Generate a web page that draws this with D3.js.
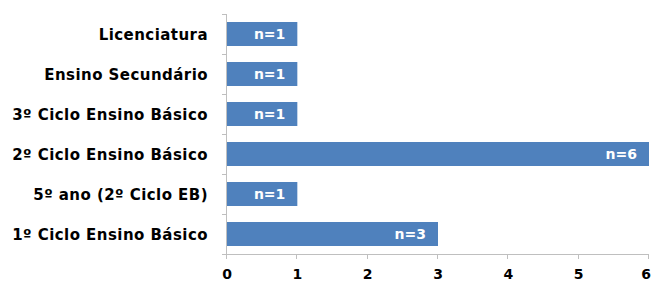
<!DOCTYPE html>
<html><head><meta charset="utf-8">
<script src="https://cdn.jsdelivr.net/npm/d3@7"></script>
<style>body{margin:0;background:#fff}svg{display:block}</style>
</head><body><svg id="c" width="652" height="283"></svg>
<script>
const categories = ["Licenciatura","Ensino Secundário","3º Ciclo Ensino Básico","2º Ciclo Ensino Básico","5º ano (2º Ciclo EB)","1º Ciclo Ensino Básico"];
const values = [1,1,1,6,1,3];
const labels = ["n=1","n=1","n=1","n=6","n=1","n=3"];
const xTicks = [0,1,2,3,4,5,6];

const svg = d3.select("#c");
const font = "'DejaVu Sans', Verdana, sans-serif";
const x = d3.scaleLinear().domain([0,6]).range([227,649]);
const y = d3.scaleBand().domain(categories).range([14,254]).paddingInner(0.4).paddingOuter(0.2);
const axisColor = "#bfbfbf";

// bars
svg.selectAll("rect.bar").data(values).join("rect")
  .attr("x", x(0)).attr("y", (d,i)=>y(categories[i]))
  .attr("width", d=>x(d)-x(0)).attr("height", y.bandwidth())
  .attr("fill", "#4f81bd");

// y axis
const ya = svg.append("g");
ya.append("line").attr("x1",x(0)-0.5).attr("x2",x(0)-0.5).attr("y1",14).attr("y2",254).attr("stroke",axisColor);
const step = y.step();
d3.range(7).forEach(i=>{
  ya.append("line").attr("x1",x(0)-5).attr("x2",x(0)).attr("y1",14+i*step+0.5).attr("y2",14+i*step+0.5).attr("stroke",axisColor);
});
ya.selectAll("text").data(categories).join("text")
  .attr("x", 208).attr("y", d=>y(d)+y.bandwidth()/2+5.5)
  .attr("text-anchor","end")
  .attr("font-family",font).attr("font-weight","bold").attr("font-size",15)
  .attr("letter-spacing","0.45px").attr("fill","#000")
  .text(d=>d);

// x axis
const xa = svg.append("g");
xa.append("line").attr("x1",x(0)-0.5).attr("x2",x(6)).attr("y1",254.5).attr("y2",254.5).attr("stroke",axisColor);
xTicks.forEach(t=>{
  xa.append("line").attr("x1",Math.round(x(t))-0.5).attr("x2",Math.round(x(t))-0.5).attr("y1",254).attr("y2",259).attr("stroke",axisColor);
});
const lastTick = xTicks[xTicks.length-1];
xa.selectAll("text").data(xTicks).join("text")
  .attr("x", d=> d===lastTick ? 651 : x(d)).attr("y", 279)
  .attr("text-anchor", d=> d===lastTick ? "end" : "middle")
  .attr("font-family",font).attr("font-weight","bold").attr("font-size",14).attr("fill","#000")
  .text(d=>d);

// value labels
svg.selectAll("text.val").data(values).join("text").attr("class","val")
  .attr("x", d=>x(d)-12).attr("y",(d,i)=>y(categories[i])+y.bandwidth()/2+5)
  .attr("text-anchor","end")
  .attr("font-family",font).attr("font-weight","bold").attr("font-size",14).attr("fill","#fff")
  .text((d,i)=>labels[i]);
</script></body></html>
